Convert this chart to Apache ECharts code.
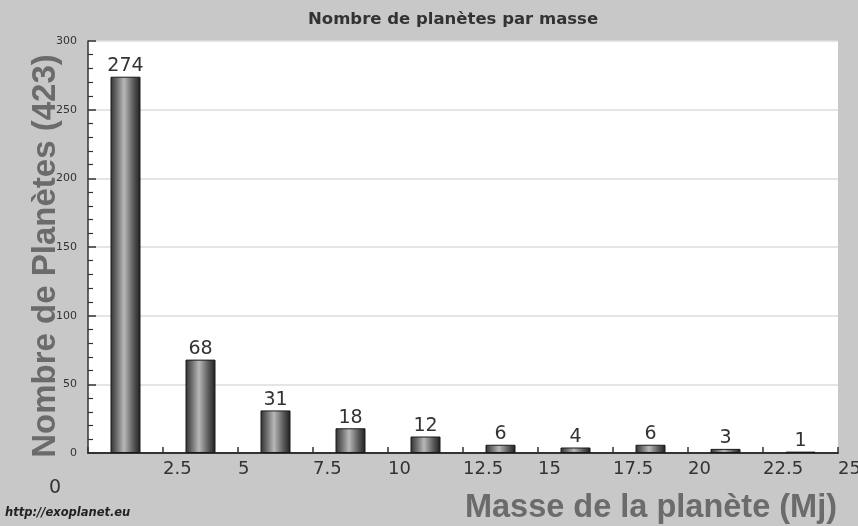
<!DOCTYPE html>
<html>
<head>
<meta charset="utf-8">
<script src="https://cdn.jsdelivr.net/npm/echarts@6/dist/echarts.min.js"></script>
<style>
html,body{margin:0;padding:0;background:#c8c8c8;}
#c{width:858px;height:526px;}
</style>
</head>
<body>
<div id="c"></div>
<script>
var binCenters = [1.25, 3.75, 6.25, 8.75, 11.25, 13.75, 16.25, 18.75, 21.25, 23.75];
var counts = [274, 68, 31, 18, 12, 6, 4, 6, 3, 1];
var titleText = 'Nombre de planètes par masse';
var xName = 'Masse de la planète (Mj)';
var yName = 'Nombre de Planètes (423)';
var sourceText = 'http://exoplanet.eu';

var chart = echarts.init(document.getElementById('c'), null, {renderer: 'canvas'});
var barGrad = new echarts.graphic.LinearGradient(0, 0, 1, 0, [
  {offset: 0, color: '#303030'},
  {offset: 0.22, color: '#707070'},
  {offset: 0.45, color: '#b8b8b8'},
  {offset: 0.75, color: '#5e5e5e'},
  {offset: 1, color: '#1e1e1e'}
]);
var data = binCenters.map(function (x, i) { return [x, counts[i]]; });
var numFont = 'DejaVu Sans';

chart.setOption({
  backgroundColor: '#c8c8c8',
  animation: false,
  title: {
    text: titleText,
    left: 303,
    top: 6,
    textStyle: {fontFamily: 'DejaVu Sans', fontSize: 16.5, fontWeight: 'bold', color: '#333'}
  },
  graphic: [{
    type: 'text',
    left: 5,
    top: 507,
    style: {text: sourceText, font: 'italic bold 11.5px "DejaVu Sans"', fill: '#222'}
  }],
  grid: {
    left: 88, right: 20, top: 41, bottom: 73,
    outerBoundsMode: 'none',
    containLabel: false,
    show: true, backgroundColor: '#ffffff', borderWidth: 0
  },
  xAxis: [{
    type: 'value',
    min: 0, max: 25, interval: 2.5,
    name: xName,
    nameLocation: 'end',
    nameGap: -1,
    nameMoveOverlap: false,
    nameTextStyle: {
      fontFamily: 'Liberation Sans', fontSize: 32.5, fontWeight: 'bold', color: '#6b6b6b',
      align: 'right', verticalAlign: 'top', padding: [39, 0, 0, 0]
    },
    axisLine: {show: true, onZero: false, lineStyle: {color: '#333', width: 2}},
    axisTick: {show: true, inside: true, length: 6, lineStyle: {color: '#333', width: 1.5}},
    splitLine: {show: false},
    axisLabel: {
      show: true, margin: 7, align: 'left',
      fontFamily: numFont, fontSize: 18, color: '#333',
      showMinLabel: true, showMaxLabel: true,
      formatter: function (v) { return v === 0 ? '' : String(v); }
    }
  }, {
    type: 'value',
    position: 'bottom',
    min: 0, max: 25, interval: 2.5,
    axisLine: {show: false},
    axisTick: {show: false},
    splitLine: {show: false},
    axisLabel: {
      show: true, margin: 26, align: 'right',
      fontFamily: numFont, fontSize: 19, color: '#333',
      showMinLabel: true,
      padding: [0, 27, 0, 0],
      formatter: function (v) { return v === 0 ? '0' : ''; }
    }
  }],
  yAxis: {
    type: 'value',
    min: 0, max: 300, interval: 50,
    name: yName,
    nameLocation: 'middle',
    nameGap: 26,
    nameRotate: 90,
    nameMoveOverlap: false,
    nameTextStyle: {
      fontFamily: 'Liberation Sans', fontSize: 33, fontWeight: 'bold', color: '#6b6b6b',
      padding: [0, 18, 0, 0]
    },
    axisLine: {show: true, lineStyle: {color: '#333', width: 1.5}},
    axisTick: {show: true, inside: true, length: 8, lineStyle: {color: '#333', width: 1.5}},
    minorTick: {show: true, splitNumber: 5, length: 5, lineStyle: {color: '#333', width: 1.2}},
    splitLine: {show: true, lineStyle: {color: '#dddddd', width: 1.5}},
    axisLabel: {margin: 11, fontFamily: numFont, fontSize: 11, color: '#333'}
  },
  series: [{
    type: 'bar',
    xAxisIndex: 0,
    data: data,
    barWidth: 30,
    itemStyle: {color: barGrad, borderColor: '#1a1a1a', borderWidth: 1},
    label: {
      show: true, position: 'top', distance: 1,
      fontFamily: numFont, fontSize: 19, color: '#333'
    }
  }]
});
</script>
</body>
</html>
